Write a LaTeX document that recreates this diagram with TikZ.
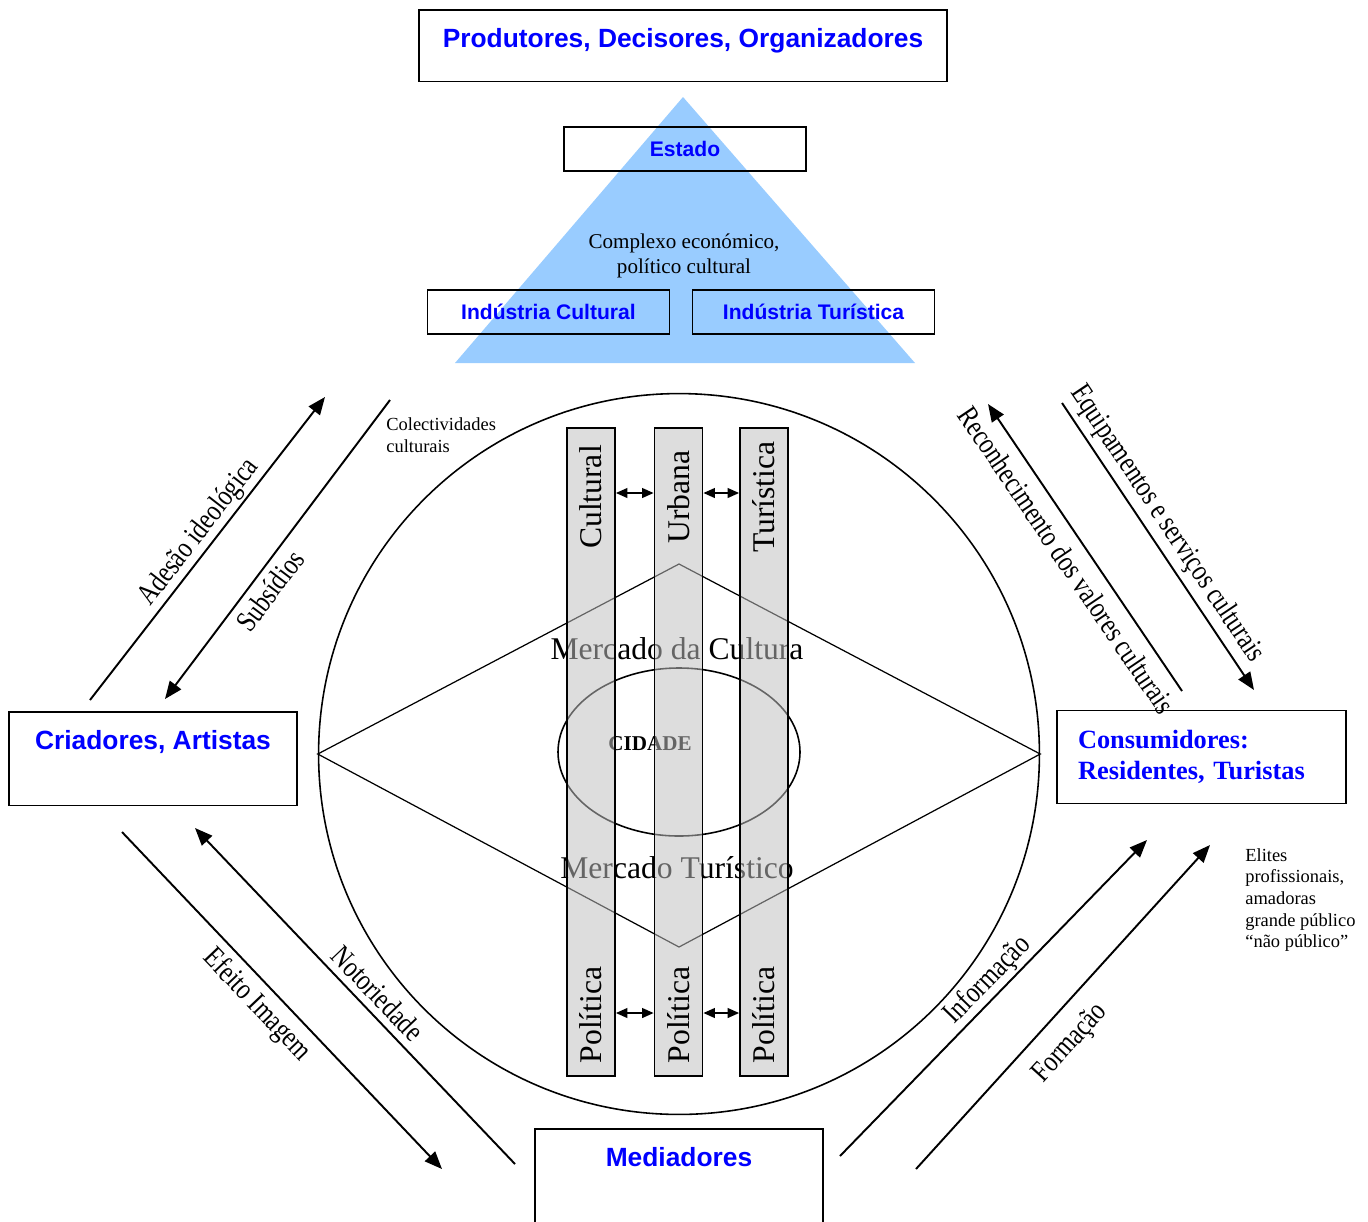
\documentclass[tikz,border=0pt]{standalone}
\usepackage{fontspec}
\setmainfont{Liberation Serif}
\setsansfont{Liberation Sans}
\newfontfamily\condfont[FakeStretch=0.8]{Liberation Serif}
\usetikzlibrary{arrows.meta,positioning,calc}
\definecolor{txtblue}{RGB}{0,0,255}
\definecolor{pyramid}{RGB}{153,204,255}
\definecolor{barfill}{gray}{0.75}
\tikzset{
  bigbox/.style={draw, line width=1pt, anchor=north, inner xsep=0pt,
    inner ysep=10.3pt, text height=11pt, text=txtblue,
    font=\sffamily\bfseries\fontsize{15}{18}\selectfont},
  smallbox/.style={draw, line width=1pt, minimum width=4.84cm,
    minimum height=0.88cm, inner sep=0pt, text height=9pt, text depth=0pt,
    text=txtblue, font=\sffamily\bfseries\fontsize{12}{14}\selectfont},
  bar/.style={draw, line width=1pt, fill=barfill, fill opacity=0.53,
    minimum width=0.96cm, minimum height=12.96cm, inner sep=0pt},
  barlabel/.style={rotate=90, inner sep=0pt, font=\fontsize{18}{20}\selectfont},
  flow/.style={line width=1.1pt, -{Triangle[length=10pt,width=8pt]}},
  flowlabel/.style={sloped, inner sep=1pt, font=\condfont\fontsize{17}{19}\selectfont},
  link/.style={line width=1pt,
    {Triangle[length=6.5pt,width=5.5pt]}-{Triangle[length=6.5pt,width=5.5pt]}},
  note/.style={align=left, inner sep=0pt, font=\fontsize{10.5}{12.3}\selectfont},
}
\begin{document}
\begin{tikzpicture}[x=0.02cm, y=-0.02cm]
  \useasboundingbox (0,0) rectangle (1368,1221);
  % pyramid of producers
  \fill[pyramid] (683,97) -- (915,363) -- (455,363) -- cycle;
  \node[bigbox, minimum width=10.56cm, text depth=9.2pt] (prod) at (683,9)
    {Produtores, Decisores, Organizadores};
  \node[smallbox] (estado)  at (685,149)   {Estado};
  \node[smallbox] (indcult) at (548.5,312) {Indústria Cultural};
  \node[smallbox] (indtur)  at (813.5,312) {Indústria Turística};
  \node[align=center, inner sep=0pt, font=\fontsize{12}{14.2}\selectfont]
    (complexo) at (684,256) {Complexo económico,\\político cultural};

  % the city
  \node[circle, draw, line width=0.9pt, minimum size=14.42cm, inner sep=0pt]
    (mercado) at (679,754) {};
  \coordinate (dtop) at (679,564);
  \coordinate (dbot) at (679,947);
  \draw[line width=0.7pt] (mercado.west) -- (dtop) -- (mercado.east) -- (dbot) -- cycle;
  \draw[line width=0.9pt] (679,752) ellipse [x radius=121, y radius=84];
  \node[font=\fontsize{18}{20}\selectfont, inner sep=0pt] (mcult) at (677,649)
    {Mercado da Cultura};
  \node[font=\fontsize{18}{20}\selectfont, inner sep=0pt] (mtur) at (677,868)
    {Mercado Turístico};
  \node[font=\bfseries\fontsize{12}{14}\selectfont, inner sep=0pt] (cidade)
    at (650,744) {CIDADE};

  % policy bars
  \node[bar] (barcult) at (591,752)   {};
  \node[bar] (barurb)  at (678.5,752) {};
  \node[bar] (bartur)  at (764,752)   {};
  \node[barlabel] (lcult) at (591,497)   {Cultural};
  \node[barlabel] (lurb)  at (678.5,497) {Urbana};
  \node[barlabel] (ltur)  at (764,497)   {Turística};
  \node[barlabel] (pcult) at (591,1015)   {Política};
  \node[barlabel] (purb)  at (678.5,1015) {Política};
  \node[barlabel] (ptur)  at (764,1015)   {Política};
  \coordinate (lnktop) at (0,493);
  \coordinate (lnkbot) at (0,1013);
  \draw[link] (barcult.east |- lnktop) -- (barurb.west |- lnktop);
  \draw[link] (barurb.east |- lnktop)  -- (bartur.west |- lnktop);
  \draw[link] (barcult.east |- lnkbot) -- (barurb.west |- lnkbot);
  \draw[link] (barurb.east |- lnkbot)  -- (bartur.west |- lnkbot);

  % actors
  \node[bigbox, minimum width=5.76cm, text depth=21.7pt] (criad) at (153,711)
    {Criadores, Artistas};
  \node[bigbox, minimum width=5.76cm, text depth=30pt] (media) at (679,1128)
    {Mediadores};
  \node[draw, line width=1pt, minimum height=1.86cm, text width=4.94cm,
    inner xsep=0.42cm, align=left, text=txtblue,
    font=\bfseries\fontsize{15}{18}\selectfont] (consum) at (1201.5,757)
    {Consumidores:\\Residentes, Turistas};
  \node[note, anchor=west] (colect) at (386,435) {Colectividades\\culturais};
  \node[note, anchor=west] (elites) at (1245,900)
    {Elites\\profissionais,\\amadoras\\grande público\\“não público”};

  % flows
  \coordinate (adA) at (90,700);   \coordinate (adB) at (325,397);
  \coordinate (suA) at (390,400);  \coordinate (suB) at (165,699);
  \coordinate (reA) at (1182,691); \coordinate (reB) at (988,404);
  \coordinate (eqA) at (1062,403); \coordinate (eqB) at (1254,690);
  \coordinate (efA) at (122,832);  \coordinate (efB) at (442,1169);
  \coordinate (noA) at (515,1164); \coordinate (noB) at (195,828);
  \coordinate (inA) at (840,1156); \coordinate (inB) at (1147,840);
  \coordinate (foA) at (916,1169); \coordinate (foB) at (1210,845);
  \draw[flow] (adA) -- node[flowlabel, pos=0.52, above] (adlab) {Adesão ideológica} (adB);
  \draw[flow] (suA) -- node[flowlabel, pos=0.60, below, inner sep=4pt] (sulab) {Subsídios} (suB);
  \draw[flow] (reA) -- node[flowlabel, pos=0.50, below, inner sep=6pt] (relab)
    {Reconhecimento dos valores culturais} (reB);
  \draw[flow] (eqA) -- node[flowlabel, pos=0.46, above, inner sep=3pt] (eqlab)
    {Equipamentos e serviços culturais} (eqB);
  \draw[flow] (efA) -- node[flowlabel, pos=0.47, below, inner sep=4pt] (eflab) {Efeito Imagem} (efB);
  \draw[flow] (noA) -- node[flowlabel, pos=0.47, above, inner sep=4pt] (nolab) {Notoriedade} (noB);
  \draw[flow] (inA) -- node[flowlabel, pos=0.52, above] (inlab) {Informação} (inB);
  \draw[flow] (foA) -- node[flowlabel, pos=0.45, below, inner sep=9pt] (folab) {Formação} (foB);
\end{tikzpicture}
\end{document}
